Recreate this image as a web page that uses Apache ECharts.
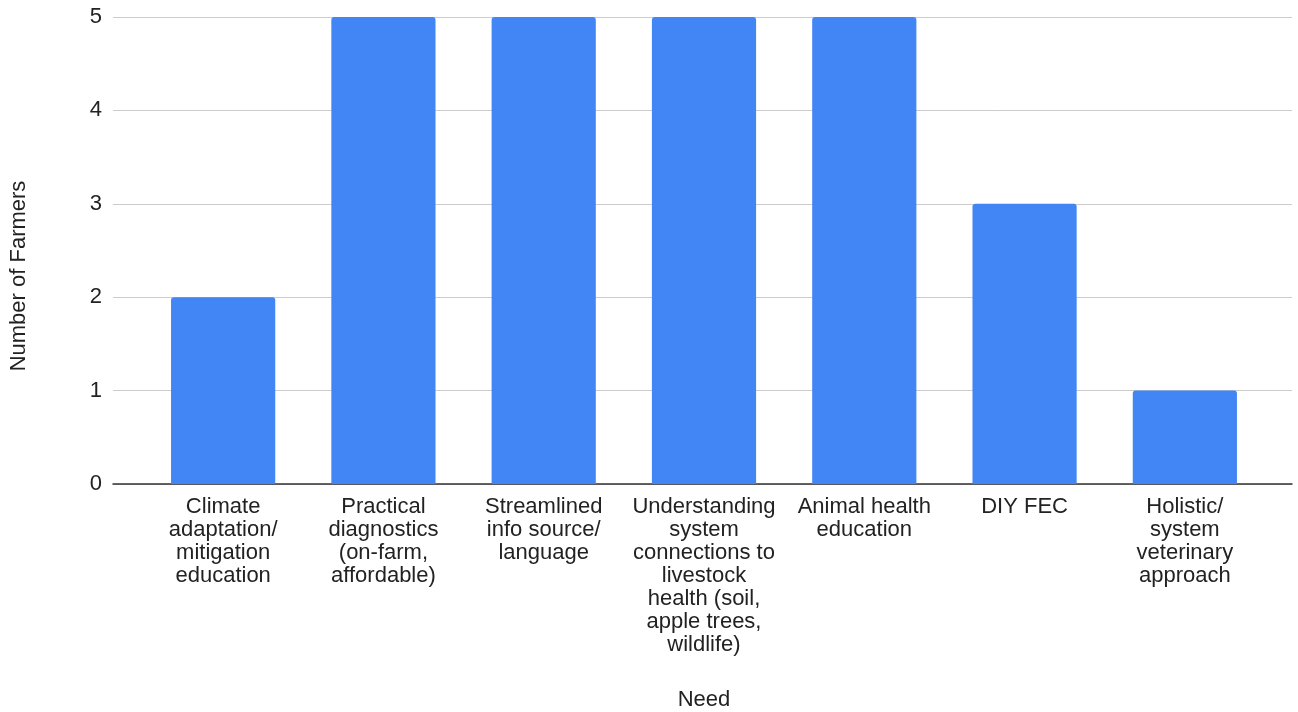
<!DOCTYPE html>
<html>
<head>
<meta charset="utf-8">
<script src="https://cdn.jsdelivr.net/npm/echarts@6/dist/echarts.min.js"></script>
<style>
  html, body { margin: 0; padding: 0; background: #fff; }
  #chart { width: 1298px; height: 712px; }
</style>
</head>
<body>
<div id="chart"></div>
<script>
// Needs reported by farmers
const categories = [
  'Climate\nadaptation/\nmitigation\neducation',
  'Practical\ndiagnostics\n(on-farm,\naffordable)',
  'Streamlined\ninfo source/\nlanguage',
  'Understanding\nsystem\nconnections to\nlivestock\nhealth (soil,\napple trees,\nwildlife)',
  'Animal health\neducation',
  'DIY FEC',
  'Holistic/\nsystem\nveterinary\napproach'
];
const farmerCounts = [2, 5, 5, 5, 5, 3, 1];
const yTicks = [0, 1, 2, 3, 4, 5];

const FONT = '"Liberation Sans", Arial, sans-serif';
const TEXT = '#222';

const chart = echarts.init(document.getElementById('chart'));
chart.setOption({
  animation: false,
  backgroundColor: '#fff',
  grid: [
    // full-width frame carrying gridlines, tick labels and baseline
    { left: 113, right: 6, top: 17, bottom: 228, outerBoundsMode: 'none', containLabel: false },
    // bar area
    { left: 143, right: 33, top: 17, bottom: 228, outerBoundsMode: 'none', containLabel: false }
  ],
  xAxis: [
    {
      gridIndex: 0, type: 'value', min: 0, max: 1,
      axisLine: { show: true, onZero: true, lineStyle: { color: '#333', width: 1.5 } },
      axisTick: { show: false }, axisLabel: { show: false }, splitLine: { show: false }
    },
    {
      gridIndex: 1, type: 'category', data: categories,
      axisLine: { show: false }, axisTick: { show: false },
      axisLabel: {
        interval: 0, margin: 11, color: TEXT, fontFamily: FONT,
        fontSize: 22, lineHeight: 23, align: 'center', verticalAlign: 'top'
      },
      name: 'Need', nameLocation: 'middle', nameGap: 205,
      nameTextStyle: { color: TEXT, fontFamily: FONT, fontSize: 22 }
    }
  ],
  yAxis: [
    {
      gridIndex: 0, type: 'value', min: yTicks[0], max: yTicks[yTicks.length - 1], interval: 1,
      axisLine: { show: false }, axisTick: { show: false },
      axisLabel: { margin: 11, color: TEXT, fontFamily: FONT, fontSize: 22 },
      splitLine: { show: true, lineStyle: { color: '#cccccc', width: 1 } }
    },
    {
      gridIndex: 1, type: 'value', min: yTicks[0], max: yTicks[yTicks.length - 1], interval: 1,
      show: false, splitLine: { show: false }
    }
  ],
  graphic: [
    {
      type: 'text', x: 19, y: 276, rotation: Math.PI / 2,
      style: {
        text: 'Number of Farmers', fill: TEXT, font: '22px ' + FONT,
        align: 'center', verticalAlign: 'middle'
      }
    }
  ],
  series: [
    {
      type: 'bar', xAxisIndex: 1, yAxisIndex: 1,
      data: farmerCounts, barWidth: '65%',
      itemStyle: { color: '#4285F4', borderRadius: [3, 3, 0, 0] },
      z: 1
    }
  ]
});
</script>
</body>
</html>
